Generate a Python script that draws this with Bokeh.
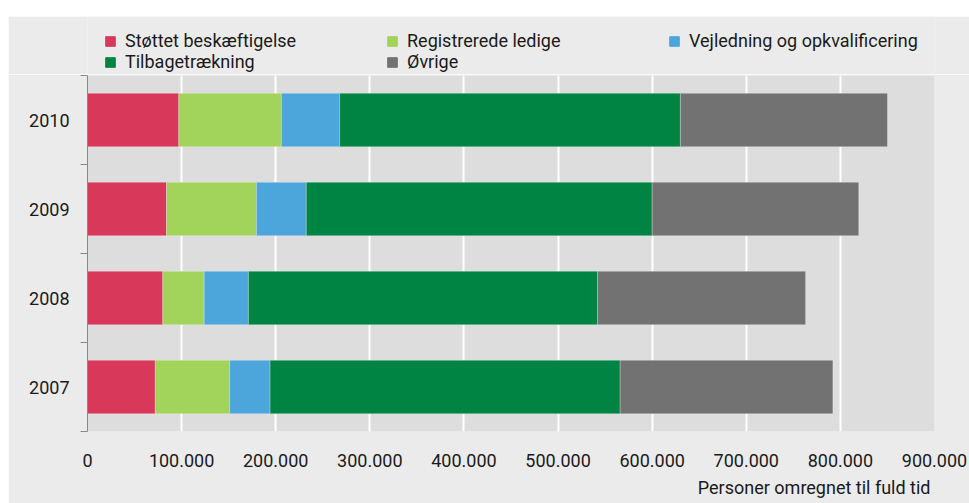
from bokeh.plotting import figure
from bokeh.models import ColumnDataSource, FixedTicker, Legend, LegendItem, Title, Spacer
from bokeh.layouts import column, row
from bokeh.embed import file_html
from bokeh.resources import INLINE

# ---- data ----
years = ["2007", "2008", "2009", "2010"]
stottet = [72000, 80000, 84000, 97000]
registrerede = [79000, 44000, 95500, 109000]
vejledning = [43000, 47000, 53000, 62000]
tilbage = [372000, 371000, 367500, 362000]
ovrige = [226000, 221000, 219500, 220000]
series_keys = ["stottet", "registrerede", "vejledning", "tilbage", "ovrige"]
series_names = ["Støttet beskæftigelse", "Registrerede ledige",
                "Vejledning og opkvalificering", "Tilbagetrækning", "Øvrige"]
colors = ["#d8395a", "#a2d35a", "#4ca6dc", "#008444", "#727272"]
x_tick_values = [0, 100000, 200000, 300000, 400000, 500000, 600000, 700000, 800000, 900000]
x_tick_labels = ["0", "100.000", "200.000", "300.000", "400.000", "500.000",
                 "600.000", "700.000", "800.000", "900.000"]
axis_title = "Personer omregnet til fuld tid"

FONT = "Roboto"
TXT = "#1a1a1a"
BG = "#ebebeb"

y_pos = [i + 0.5 for i in range(len(years))]
source = ColumnDataSource(dict(y=y_pos, stottet=stottet, registrerede=registrerede,
                               vejledning=vejledning, tilbage=tilbage, ovrige=ovrige))

# ---- main chart ----
p = figure(width=961, height=429, output_backend="svg", toolbar_location=None,
           x_range=(0, 900000), y_range=(0, len(years)),
           min_border_left=79, min_border_right=35, min_border_top=1, min_border_bottom=71)
p.background_fill_color = "#dddddd"
p.border_fill_color = BG
p.outline_line_color = None

p.hbar_stack(series_keys, y="y", height=0.6, source=source,
             color=colors, line_color="white", line_alpha=0.25, line_width=1)

p.xaxis.ticker = FixedTicker(ticks=x_tick_values)
p.xaxis.major_label_overrides = {v: l for v, l in zip(x_tick_values, x_tick_labels)}
p.xaxis.axis_line_color = None
p.xaxis.major_tick_line_color = None
p.xaxis.minor_tick_line_color = None
p.xaxis.major_tick_out = 0
p.xaxis.major_tick_in = 0
p.xaxis.major_label_standoff = 22
p.xaxis.major_label_text_font = FONT
p.xaxis.major_label_text_font_size = "18px"
p.xaxis.major_label_text_color = TXT
p.xgrid.grid_line_color = "white"
p.xgrid.grid_line_width = 2

p.yaxis.ticker = FixedTicker(ticks=y_pos, minor_ticks=list(range(len(years) + 1)))
p.yaxis.major_label_overrides = {v: l for v, l in zip(y_pos, years)}
p.yaxis.major_tick_line_color = None
p.yaxis.major_tick_out = 0
p.yaxis.major_tick_in = 0
p.yaxis.minor_tick_line_color = "#888888"
p.yaxis.minor_tick_out = 7
p.yaxis.minor_tick_in = 0
p.yaxis.axis_line_color = "#888888"
p.yaxis.major_label_standoff = 11
p.yaxis.major_label_text_font = FONT
p.yaxis.major_label_text_font_size = "18px"
p.yaxis.major_label_text_color = TXT
p.ygrid.grid_line_color = None

p.add_layout(Title(text=axis_title, align="right", offset=4, standoff=11,
                   text_font=FONT, text_font_size="18px", text_font_style="normal",
                   text_color=TXT), "below")

# ---- legend strip above the chart (its frame is aligned with the chart's frame) ----
pl = figure(width=961, height=58, output_backend="svg", toolbar_location=None,
            x_range=(0, 1), y_range=(100, 101), x_axis_type=None, y_axis_type=None,
            min_border_left=79, min_border_right=35, min_border_top=0, min_border_bottom=0)
pl.background_fill_color = BG
pl.border_fill_color = BG
pl.outline_line_color = None
pl.grid.visible = False
# same stacked series (out of this strip's view) so that the legend shows their swatches
leg_r = pl.hbar_stack(series_keys, y="y", height=0.6, source=source, color=colors)

def make_legend(idx, vy):
    items = [LegendItem(label=series_names[i], renderers=[leg_r[i]]) for i in idx]
    lg = Legend(items=items, orientation="horizontal", location=(17, vy),
                padding=0, margin=0, spacing=2, border_line_color=None,
                background_fill_alpha=0, glyph_width=12, glyph_height=12,
                label_standoff=9, label_width=259, label_height=20,
                label_text_font=FONT, label_text_font_size="18px",
                label_text_color=TXT)
    pl.add_layout(lg, "center")

make_legend([0, 1, 2], 23)
make_legend([3, 4], 2)

layout = row(Spacer(width=8, height=503), column(Spacer(width=961, height=16), pl, p))
open("out.html", "w").write(file_html(layout, INLINE))
